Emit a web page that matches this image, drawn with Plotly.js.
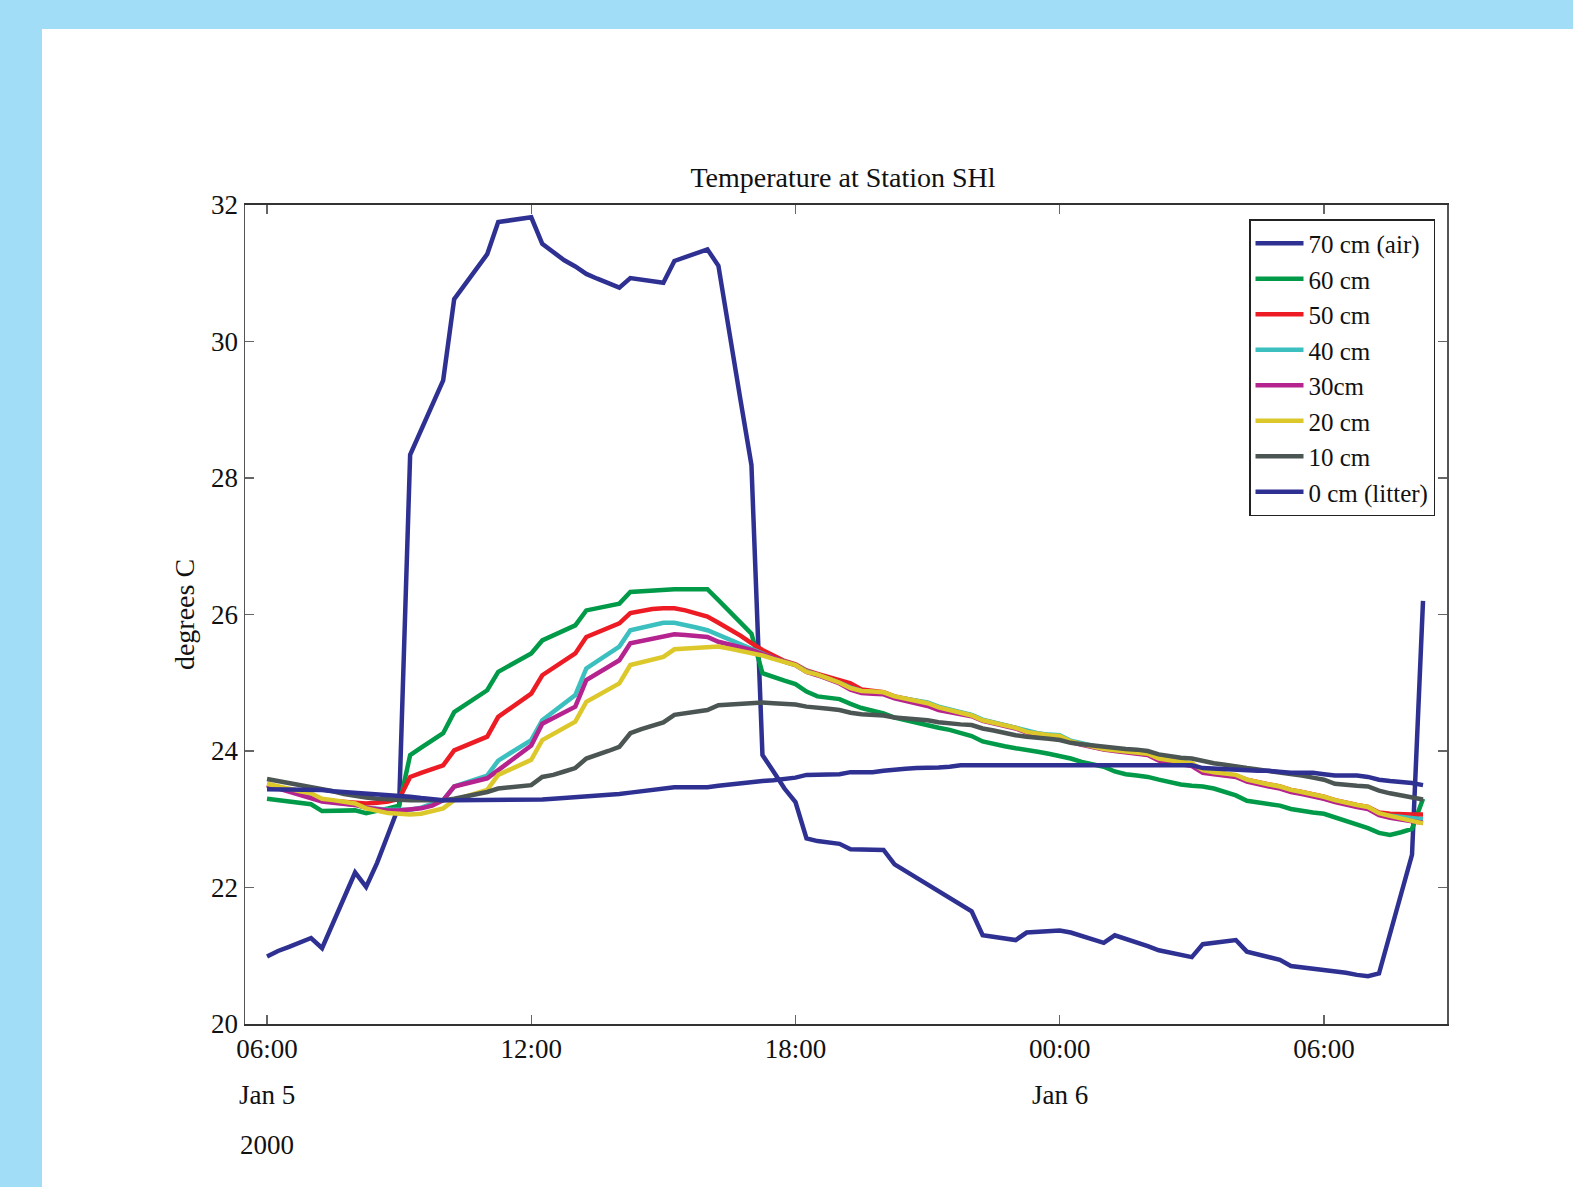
<!DOCTYPE html>
<html>
<head>
<meta charset="utf-8">
<script src="https://cdn.plot.ly/plotly-3.0.1.min.js"></script>
<style>html,body{margin:0;padding:0;background:#a1ddf7;}#chart{width:1573px;height:1187px;}</style>
</head>
<body>
<div id="chart"></div>
<script>
// 15-minute readings starting 2000-01-05 06:00
const startTime = '2000-01-05T06:00:00';
const stepMinutes = 15;

const seriesNames = ['70 cm (air)', '60 cm', '50 cm', '40 cm', '30cm', '20 cm', '10 cm', '0 cm (litter)'];

const air70 = [
 20.99,21.07,21.13,21.20,21.26,21.11,21.48,21.85,22.22,22.01,
 22.36,22.78,23.20,28.34,28.70,29.06,29.43,30.62,30.84,31.06,
 31.28,31.75,31.77,31.80,31.82,31.43,31.31,31.19,31.10,30.99,
 30.92,30.86,30.79,30.93,30.91,30.88,30.86,31.18,31.24,31.30,
 31.35,31.11,30.10,29.15,28.19,23.94,23.70,23.45,23.25,22.72,
 22.68,22.66,22.64,22.56,22.56,22.56,22.55,22.34,22.24,22.14,
 22.04,21.95,21.85,21.75,21.65,21.30,21.28,21.25,21.23,21.34,
 21.35,21.36,21.37,21.34,21.29,21.24,21.19,21.30,21.25,21.19,
 21.14,21.08,21.05,21.01,20.98,21.17,21.19,21.21,21.23,21.06,
 21.02,20.97,20.94,20.85,20.83,20.82,20.80,20.78,20.75,20.72,
 20.70,20.74,21.32,21.90,22.48,26.20];

const soil60 = [
 23.30,23.28,23.26,23.24,23.22,23.12,23.12,23.13,23.13,23.09,
 23.12,23.16,23.20,23.94,24.05,24.16,24.26,24.57,24.68,24.79,
 24.89,25.16,25.25,25.34,25.43,25.62,25.69,25.77,25.84,26.06,
 26.09,26.13,26.16,26.33,26.34,26.36,26.37,26.37,26.37,26.37,
 26.37,26.21,26.05,25.88,25.72,25.14,25.08,25.03,24.98,24.87,
 24.80,24.78,24.76,24.69,24.63,24.59,24.55,24.49,24.45,24.42,
 24.38,24.34,24.31,24.27,24.22,24.14,24.10,24.07,24.04,24.02,
 23.99,23.96,23.93,23.89,23.84,23.80,23.77,23.70,23.66,23.64,
 23.62,23.58,23.54,23.51,23.49,23.48,23.45,23.40,23.35,23.27,
 23.25,23.23,23.20,23.15,23.12,23.10,23.08,23.03,22.97,22.92,
 22.87,22.80,22.77,22.81,22.86,23.30];

const soil50 = [
 23.50,23.46,23.42,23.38,23.33,23.28,23.27,23.26,23.24,23.23,
 23.24,23.26,23.30,23.62,23.68,23.73,23.79,24.01,24.08,24.14,
 24.21,24.50,24.61,24.73,24.84,25.11,25.22,25.32,25.43,25.67,
 25.74,25.80,25.87,26.02,26.05,26.08,26.09,26.09,26.06,26.02,
 25.97,25.88,25.79,25.69,25.58,25.48,25.40,25.32,25.27,25.18,
 25.13,25.08,25.04,24.99,24.90,24.88,24.86,24.80,24.77,24.73,
 24.70,24.64,24.60,24.56,24.52,24.45,24.41,24.37,24.34,24.28,
 24.25,24.23,24.21,24.14,24.10,24.06,24.03,24.01,23.99,23.97,
 23.95,23.89,23.86,23.83,23.81,23.72,23.69,23.66,23.64,23.58,
 23.54,23.51,23.48,23.43,23.40,23.37,23.33,23.28,23.24,23.21,
 23.18,23.10,23.08,23.07,23.07,23.07];

const soil40 = [
 23.50,23.46,23.42,23.38,23.34,23.27,23.25,23.23,23.21,23.17,
 23.15,23.14,23.14,23.14,23.17,23.22,23.28,23.48,23.53,23.58,
 23.64,23.86,23.96,24.06,24.16,24.45,24.57,24.70,24.82,25.21,
 25.32,25.43,25.53,25.77,25.81,25.85,25.88,25.88,25.85,25.81,
 25.77,25.70,25.63,25.56,25.50,25.42,25.36,25.31,25.26,25.17,
 25.12,25.06,25.00,24.93,24.88,24.87,24.85,24.79,24.76,24.73,
 24.71,24.65,24.61,24.57,24.53,24.46,24.42,24.38,24.34,24.29,
 24.26,24.24,24.23,24.15,24.11,24.07,24.04,24.02,24.00,23.98,
 23.96,23.89,23.86,23.83,23.81,23.71,23.68,23.66,23.64,23.57,
 23.53,23.50,23.47,23.42,23.38,23.35,23.31,23.26,23.22,23.19,
 23.16,23.08,23.05,23.03,23.01,23.00];

const soil30 = [
 23.50,23.45,23.41,23.36,23.31,23.26,23.24,23.22,23.21,23.17,
 23.15,23.13,23.13,23.14,23.16,23.20,23.28,23.48,23.52,23.56,
 23.60,23.72,23.84,23.96,24.08,24.40,24.48,24.57,24.65,25.04,
 25.14,25.24,25.33,25.58,25.61,25.64,25.67,25.71,25.70,25.69,
 25.67,25.60,25.56,25.52,25.48,25.42,25.36,25.31,25.26,25.16,
 25.11,25.05,24.99,24.90,24.85,24.84,24.83,24.77,24.73,24.69,
 24.66,24.60,24.57,24.54,24.51,24.44,24.40,24.36,24.33,24.27,
 24.24,24.22,24.21,24.13,24.09,24.05,24.02,24.00,23.98,23.96,
 23.94,23.86,23.83,23.80,23.78,23.68,23.66,23.64,23.62,23.55,
 23.51,23.48,23.45,23.40,23.37,23.34,23.30,23.25,23.21,23.18,
 23.15,23.06,23.02,22.99,22.97,22.95];

const soil20 = [
 23.52,23.48,23.44,23.41,23.38,23.30,23.28,23.25,23.23,23.16,
 23.12,23.09,23.08,23.07,23.08,23.12,23.16,23.28,23.33,23.38,
 23.43,23.65,23.72,23.79,23.87,24.16,24.25,24.34,24.43,24.72,
 24.81,24.90,24.99,25.26,25.30,25.34,25.38,25.49,25.50,25.52,
 25.53,25.53,25.50,25.47,25.44,25.40,25.35,25.30,25.26,25.16,
 25.12,25.06,25.00,24.92,24.88,24.87,24.86,24.80,24.77,24.73,
 24.70,24.64,24.60,24.56,24.52,24.45,24.41,24.37,24.34,24.28,
 24.25,24.23,24.22,24.14,24.10,24.06,24.03,24.01,23.99,23.97,
 23.96,23.89,23.86,23.84,23.82,23.72,23.69,23.67,23.65,23.58,
 23.54,23.51,23.48,23.43,23.40,23.37,23.33,23.28,23.24,23.21,
 23.18,23.09,23.05,23.01,22.98,22.94];

const soil10 = [
 23.59,23.56,23.53,23.51,23.48,23.45,23.41,23.37,23.34,23.32,
 23.30,23.29,23.28,23.28,23.28,23.28,23.28,23.30,23.33,23.36,
 23.40,23.45,23.47,23.48,23.50,23.62,23.65,23.70,23.75,23.89,
 23.94,24.00,24.06,24.26,24.32,24.37,24.42,24.53,24.55,24.58,
 24.60,24.67,24.68,24.70,24.71,24.71,24.70,24.69,24.68,24.65,
 24.64,24.62,24.60,24.56,24.54,24.53,24.52,24.49,24.48,24.46,
 24.45,24.42,24.40,24.39,24.38,24.33,24.30,24.26,24.23,24.21,
 24.20,24.18,24.16,24.12,24.10,24.08,24.06,24.05,24.03,24.02,
 24.00,23.95,23.92,23.90,23.89,23.85,23.82,23.80,23.77,23.75,
 23.73,23.71,23.68,23.66,23.64,23.61,23.58,23.52,23.50,23.49,
 23.48,23.42,23.38,23.35,23.32,23.29];

const litter0 = [
 23.44,23.44,23.44,23.44,23.44,23.43,23.41,23.40,23.38,23.37,
 23.37,23.36,23.35,23.33,23.31,23.29,23.28,23.28,23.28,23.28,
 23.28,23.28,23.28,23.29,23.29,23.29,23.30,23.31,23.32,23.33,
 23.34,23.36,23.37,23.39,23.41,23.43,23.45,23.47,23.47,23.47,
 23.47,23.49,23.51,23.52,23.54,23.56,23.57,23.59,23.61,23.65,
 23.65,23.65,23.66,23.69,23.69,23.69,23.71,23.73,23.74,23.75,
 23.75,23.76,23.77,23.79,23.79,23.79,23.79,23.79,23.79,23.79,
 23.79,23.79,23.79,23.79,23.79,23.79,23.79,23.79,23.79,23.79,
 23.79,23.79,23.79,23.79,23.79,23.75,23.74,23.73,23.72,23.72,
 23.71,23.71,23.69,23.68,23.68,23.68,23.66,23.64,23.64,23.64,
 23.62,23.58,23.56,23.55,23.53,23.50];

const xTickVals = ['2000-01-05 06:00', '2000-01-05 12:00', '2000-01-05 18:00', '2000-01-06 00:00', '2000-01-06 06:00'];
const xTickText = ['06:00', '12:00', '18:00', '00:00', '06:00'];
const yTickVals = [20, 22, 24, 26, 28, 30, 32];
const dateLabels = [['2000-01-05 06:00', 'Jan 5'], ['2000-01-06 00:00', 'Jan 6']];
const yearLabel = ['2000-01-05 06:00', '2000'];

const colors = ['#2e3192', '#009a49', '#ed1c24', '#3bbfbf', '#b5238f', '#dcc82a', '#4b5553', '#2e3192'];
const allSeries = [air70, soil60, soil50, soil40, soil30, soil20, soil10, litter0];

function pad(n){return (n<10?'0':'')+n;}
const t0 = new Date(startTime + 'Z').getTime();
const times = air70.map((_, i) => {
  const d = new Date(t0 + i * stepMinutes * 60000);
  return d.getUTCFullYear() + '-' + pad(d.getUTCMonth()+1) + '-' + pad(d.getUTCDate()) + ' ' + pad(d.getUTCHours()) + ':' + pad(d.getUTCMinutes());
});

const FONT = '"Liberation Serif", "Times New Roman", Times, serif';

const traces = allSeries.map((vals, k) => ({
  type: 'scatter', mode: 'lines', name: seriesNames[k],
  x: times, y: vals,
  line: {color: colors[k], width: 4.5}
}));

const L = 245, R = 1447, T = 205, B = 1024, W = 1573, H = 1187;
const pw = R - L, ph = B - T;

const annotations = dateLabels.map(d => ({
  x: d[0], xref: 'x', y: (B - 1095) / ph, yref: 'paper',
  text: d[1], showarrow: false, xanchor: 'center', yanchor: 'middle',
  font: {family: FONT, size: 27, color: '#111'}
}));
annotations.push({
  x: yearLabel[0], xref: 'x', y: (B - 1145) / ph, yref: 'paper',
  text: yearLabel[1], showarrow: false, xanchor: 'center', yanchor: 'middle',
  font: {family: FONT, size: 27, color: '#111'}
});

const layout = {
  width: W, height: H,
  paper_bgcolor: '#a1ddf7', plot_bgcolor: '#ffffff',
  margin: {l: L, r: W - R, t: T, b: H - B, pad: 0},
  font: {family: FONT, size: 27, color: '#111'},
  title: {text: 'Temperature at Station SHl', x: 843 / W, xref: 'container', xanchor: 'center',
          y: 1 - 177 / H, yref: 'container', yanchor: 'middle', font: {family: FONT, size: 28, color: '#111'}},
  showlegend: true,
  legend: {x: (1435 - L) / pw, y: (B - 219) / ph, xanchor: 'right', yanchor: 'top',
           bgcolor: '#ffffff', bordercolor: '#222', borderwidth: 1.5, itemwidth: 48,
           font: {family: FONT, size: 25, color: '#111'}, tracegroupgap: 0},
  xaxis: {type: 'date', range: ['2000-01-05 05:30', '2000-01-06 08:47:40'],
          tickmode: 'array', tickvals: xTickVals, ticktext: xTickText,
          ticks: 'inside', ticklen: 9, tickwidth: 1.2, tickcolor: '#666',
          showline: true, linecolor: '#333', linewidth: 2, mirror: 'ticks',
          showgrid: false, zeroline: false,
          tickfont: {family: FONT, size: 27, color: '#111'}},
  yaxis: {range: [20, 32], tickmode: 'array', tickvals: yTickVals,
          ticks: 'inside', ticklen: 9, tickwidth: 1.2, tickcolor: '#666',
          showline: true, linecolor: '#555', linewidth: 1.5, mirror: 'ticks',
          showgrid: false, zeroline: false,
          tickfont: {family: FONT, size: 27, color: '#111'},
          title: {text: 'degrees C', standoff: 8, font: {family: FONT, size: 28, color: '#111'}}},
  shapes: [{type: 'rect', xref: 'paper', yref: 'paper', layer: 'below',
            x0: (42 - L) / pw, x1: (W - L) / pw + 0.01, y0: (B - H) / ph - 0.01, y1: (B - 29) / ph,
            fillcolor: '#ffffff', line: {width: 0}}],
  annotations: annotations
};

Plotly.newPlot('chart', traces, layout, {displayModeBar: false, staticPlot: true});
</script>
</body>
</html>
